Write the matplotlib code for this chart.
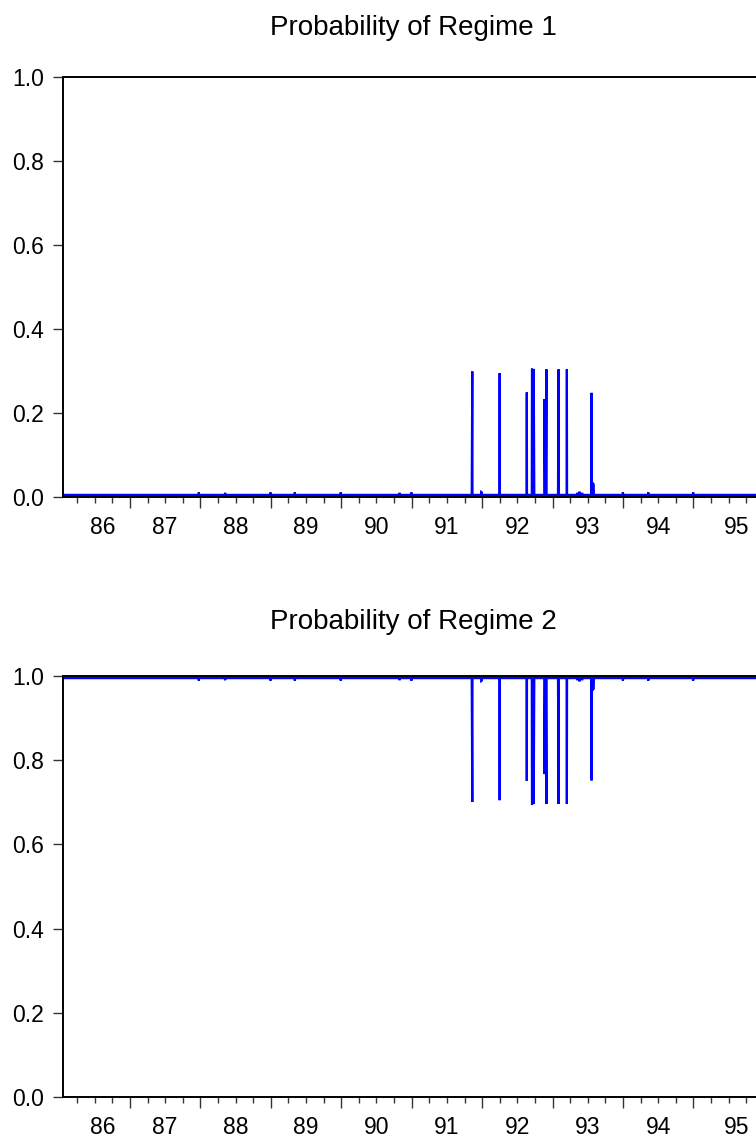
import numpy as np
import pandas as pd
import matplotlib
matplotlib.use("Agg")
import matplotlib.pyplot as plt
from matplotlib.transforms import blended_transform_factory

plt.rcParams["font.family"] = ["Liberation Sans", "DejaVu Sans"]

# ---- data -------------------------------------------------------------
# daily (business-day) sample
sample_start = "1986-01-20"
sample_end = "1996-03-08"

# smoothed probability of regime 1 on quiet days
base_prob = 0.005

# episodes where regime 1 becomes likely
spike_dates = ["1991-11-11", "1992-04-01", "1992-08-20", "1992-09-16",
               "1992-09-17", "1992-09-25", "1992-11-20", "1992-11-30",
               "1993-02-01", "1993-03-16", "1993-07-22", "1993-07-29",
               "1993-07-30", "1993-08-02"]
spike_probs = [0.299, 0.295, 0.249, 0.304,
               0.304, 0.304, 0.233, 0.304,
               0.304, 0.304, 0.248, 0.034,
               0.032, 0.030]

# small bumps around year ends and a few other dates
bump_dates = ["1987-12-24", "1988-05-09", "1988-12-30", "1989-05-05",
              "1989-12-29", "1990-10-30", "1990-12-31", "1991-12-27",
              "1991-12-30", "1993-05-10", "1993-05-20", "1993-05-21",
              "1993-06-03", "1993-12-31", "1994-05-12", "1994-12-30"]
bump_probs = [0.011, 0.010, 0.011, 0.011,
              0.011, 0.010, 0.011, 0.012,
              0.011, 0.010, 0.011, 0.011,
              0.010, 0.011, 0.011, 0.011]

year_ticks = list(range(1987, 1996))
year_labels = ["86", "87", "88", "89", "90", "91", "92", "93", "94", "95"]
year_label_pos = [1986.61, 1987.5, 1988.5, 1989.5, 1990.5, 1991.5,
                  1992.5, 1993.5, 1994.5, 1995.61]
prob_ticks = [0.0, 0.2, 0.4, 0.6, 0.8, 1.0]

# ---- build series -----------------------------------------------------
days = pd.bdate_range(sample_start, sample_end)
reg1 = pd.Series(base_prob, index=days)
reg1.loc[pd.to_datetime(bump_dates)] = bump_probs
reg1.loc[pd.to_datetime(spike_dates)] = spike_probs
reg2 = 1.0 - reg1


def frac_year(idx):
    yr = idx.year.values
    start = pd.to_datetime([f"{y}-01-01" for y in yr])
    length = np.where(idx.is_leap_year, 366.0, 365.0)
    return yr + (idx - start).days.values / length


t = frac_year(days)

# ---- figure -----------------------------------------------------------
W, H = 756, 1141
fig = plt.figure(figsize=(W / 100, H / 100), dpi=100)

left = 63 / W
width = 715 / W
panels = [
    (reg1, 497, 420, "Probability of Regime 1", 28),
    (reg2, 1097, 421, "Probability of Regime 2", 622),
]

for series, y0px, hpx, title, ty in panels:
    ax = fig.add_axes([left, 1 - y0px / H, width, hpx / H])
    ax.plot(t, series.values, color="#0000ff", lw=1.6, solid_joinstyle="miter")
    ax.set_xlim(1986.05, 1996.2)
    ax.set_ylim(0.0, 1.0)

    for side in ("left", "top", "bottom"):
        ax.spines[side].set_color("black")
        ax.spines[side].set_linewidth(1.4)
    ax.spines["right"].set_visible(False)

    ax.set_yticks(prob_ticks)
    ax.set_yticklabels([f"{v:.1f}" for v in prob_ticks])
    ax.tick_params(axis="y", direction="out", length=7.2, width=1.0,
                   color="#333333", labelsize=16.5, pad=6.5)

    ax.set_xticks(year_ticks)
    ax.set_xticklabels([])
    ax.set_xticks([y + q for y in range(1986, 1996) for q in (0.25, 0.5, 0.75)],
                  minor=True)
    ax.tick_params(axis="x", which="major", direction="out", length=8,
                   width=1.0, color="#333333")
    ax.tick_params(axis="x", which="minor", direction="out", length=4.3,
                   width=1.0, color="#333333")

    trans = blended_transform_factory(ax.transData, ax.transAxes)
    for pos, lab in zip(year_label_pos, year_labels):
        ax.text(pos, -31 / hpx, lab, transform=trans, ha="center",
                va="center", fontsize=16.5, clip_on=False)

    fig.text(413 / W, 1 - ty / H, title, ha="center", va="center",
             fontsize=20)

fig.savefig("out.png", dpi=100)
